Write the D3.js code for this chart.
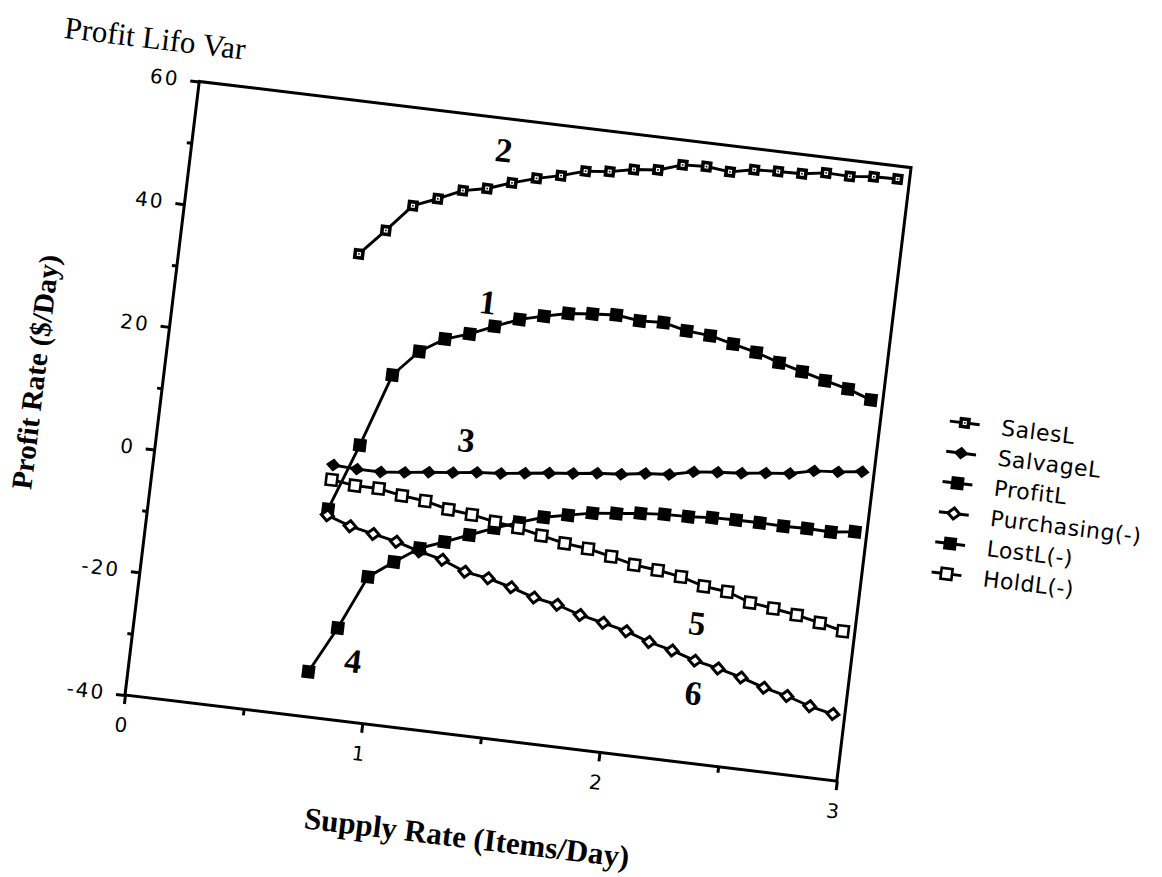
<!DOCTYPE html>
<html>
<head>
<meta charset="utf-8">
<script src="https://cdn.jsdelivr.net/npm/d3@7"></script>
<style>
  html, body { margin: 0; padding: 0; background: #fff; }
  svg { display: block; }
</style>
</head>
<body>
<svg id="chart" width="1162" height="877"></svg>
<script>
// Supply rate (items/day) at which each curve is sampled
const supplyRate = [0.75, 0.85, 0.95, 1.05, 1.15, 1.25, 1.35, 1.45, 1.55, 1.65, 1.75, 1.85,
                    1.95, 2.05, 2.15, 2.25, 2.35, 2.45, 2.55, 2.65, 2.75, 2.85, 2.95];

// Profit-rate components ($/day), LIFO policy
const salesL = [35.4, 39.7, 44.2, 45.8, 47.6, 48.4, 49.8, 51.0, 51.9, 53.1, 53.5, 54.3,
                54.7, 56.0, 56.2, 55.8, 56.6, 56.8, 56.9, 57.5, 57.4, 57.8, 57.9];
const salvageL = [1.0, 0.8, 0.8, 1.2, 1.7, 2.1, 2.6, 2.9, 3.4, 3.9, 4.3, 4.8,
                  5.1, 5.7, 6.0, 6.9, 7.3, 7.6, 8.1, 8.5, 9.4, 9.7, 10.2];
const profitL = [-6.2, 4.7, 16.6, 20.9, 23.4, 24.7, 26.4, 28.0, 29.0, 29.9, 30.3, 30.6,
                 30.1, 30.3, 29.4, 29.1, 28.2, 27.3, 26.1, 25.1, 24.1, 23.2, 21.9];
const purchasing = [-7.2, -8.5, -9.3, -10.1, -11.2, -12.1, -13.6, -14.2, -15.2, -16.4, -17.1, -18.3,
                    -19.1, -20.0, -21.3, -22.2, -23.4, -24.2, -25.2, -26.4, -27.3, -28.5, -29.3];
const lostL = [-32.7, -25.1, -16.3, -13.4, -10.7, -9.2, -7.6, -6.0, -4.6, -3.3, -2.5, -1.7,
               -1.3, -0.8, -0.5, -0.4, -0.1, 0.0, 0.0, -0.1, 0.0, -0.1, 0.4];
const holdL = [-1.4, -1.9, -1.9, -2.6, -3.0, -3.9, -4.3, -5.0, -5.5, -6.3, -7.1, -7.5,
               -8.3, -9.2, -9.6, -10.2, -11.3, -11.7, -13.0, -13.5, -14.1, -14.9, -15.8];

const seriesNames = ["SalesL", "SalvageL", "ProfitL", "Purchasing(-)", "LostL(-)", "HoldL(-)"];
const seriesValues = [salesL, salvageL, profitL, purchasing, lostL, holdL];
const seriesMarkers = ["squareDot", "diamondFilled", "squareFilled", "diamondOpen", "squareFilled", "squareOpen"];

// Curve numbers written beside the lines
const curveLabels = ["1", "2", "3", "4", "5", "6"];
const curveLabelX = [1.31, 1.30, 1.29, 0.93, 2.34, 2.36];
const curveLabelY = [30.2, 54.9, 7.6, -30.0, -17.3, -28.6];

const yTicksMajor = [-40, -20, 0, 20, 40, 60];
const yTicksMinor = [-30, -10, 10, 30, 50];
const xTicksMajor = [0, 1, 2, 3];
const xTicksMinor = [0.5, 1.5, 2.5];

const titleText = "Profit Lifo Var";
const xTitle = "Supply Rate (Items/Day)";
const yTitle = "Profit Rate ($/Day)";

const W = 717, H = 618;
const svg = d3.select("#chart");

// The whole sheet is printed slightly turned on the page
const sheet = svg.append("g").attr("transform", "translate(125,695) rotate(6.9)");
const plot = sheet.append("g").attr("transform", `translate(0,${-H})`);

const x = d3.scaleLinear().domain([0, 3]).range([0, W]);
const y = d3.scaleLinear().domain([-40, 60]).range([H, 0]);

const tickFont = "'DejaVu Sans', sans-serif";
const serifFont = "'Liberation Serif', 'Times New Roman', serif";

function styleAxis(g) {
  g.select(".domain").remove();
  g.selectAll(".tick line").attr("stroke", "#000").attr("stroke-width", 3);
  g.selectAll(".tick text")
    .attr("fill", "#000")
    .style("font-family", tickFont)
    .style("font-size", "20px")
    .style("letter-spacing", "2px");
}

// Y axis: labelled ticks every 20, short ticks between
plot.append("g")
  .call(d3.axisLeft(y).tickValues(yTicksMinor).tickSize(5).tickFormat(""))
  .call(styleAxis);
plot.append("g")
  .call(d3.axisLeft(y).tickValues(yTicksMajor).tickSize(9).tickPadding(11).tickFormat(d => String(d)))
  .call(styleAxis);

// X axis
plot.append("g")
  .attr("transform", `translate(0,${H})`)
  .call(d3.axisBottom(x).tickValues(xTicksMinor).tickSize(6).tickFormat(""))
  .call(styleAxis);
plot.append("g")
  .attr("transform", `translate(0,${H})`)
  .call(d3.axisBottom(x).tickValues(xTicksMajor).tickSize(9).tickPadding(14).tickFormat(d => String(d)))
  .call(styleAxis);

// Frame around the plotting area
plot.append("rect")
  .attr("x", 0).attr("y", 0).attr("width", W).attr("height", H)
  .attr("fill", "none").attr("stroke", "#000").attr("stroke-width", 3);

// Marker glyphs, centred on the origin of the given group
function drawMarker(g, type) {
  if (type === "squareDot") {
    g.append("rect").attr("x", -3.8).attr("y", -3.8).attr("width", 7.6).attr("height", 7.6)
      .attr("fill", "#fff").attr("stroke", "#000").attr("stroke-width", 3.6);
    g.append("rect").attr("x", -0.8).attr("y", -0.8).attr("width", 1.6).attr("height", 1.6).attr("fill", "#000");
  } else if (type === "squareFilled") {
    g.append("rect").attr("x", -6.5).attr("y", -6.5).attr("width", 13).attr("height", 13).attr("fill", "#000");
  } else if (type === "squareOpen") {
    g.append("rect").attr("x", -5.5).attr("y", -5.5).attr("width", 11).attr("height", 11)
      .attr("fill", "#fff").attr("stroke", "#000").attr("stroke-width", 2.6);
  } else if (type === "diamondFilled") {
    g.append("path").attr("d", "M0,-6.5L7.5,0L0,6.5L-7.5,0Z").attr("fill", "#000");
  } else if (type === "diamondOpen") {
    g.append("path").attr("d", "M0,-5.5L6,0L0,5.5L-6,0Z")
      .attr("fill", "#fff").attr("stroke", "#000").attr("stroke-width", 3);
  }
}

const line = d3.line()
  .x((d, i) => x(supplyRate[i]))
  .y(d => y(d));

seriesValues.forEach((vals, s) => {
  const g = plot.append("g");
  g.append("path")
    .attr("d", line(vals))
    .attr("fill", "none").attr("stroke", "#000").attr("stroke-width", 2.9)
    .attr("stroke-linejoin", "round");
  vals.forEach((v, i) => {
    const m = g.append("g").attr("transform", `translate(${x(supplyRate[i])},${y(v)})`);
    drawMarker(m, seriesMarkers[s]);
  });
});

// Curve numbers
plot.selectAll("text.curve-num")
  .data(curveLabels)
  .join("text")
  .attr("class", "curve-num")
  .attr("x", (d, i) => x(curveLabelX[i]))
  .attr("y", (d, i) => y(curveLabelY[i]))
  .attr("dy", "0.35em")
  .attr("text-anchor", "middle")
  .style("font-family", serifFont)
  .style("font-weight", "bold")
  .style("font-size", "34px")
  .text(d => d);

// Titles
plot.append("text")
  .attr("x", -49).attr("y", -38).attr("dy", "0.35em")
  .attr("text-anchor", "middle")
  .style("font-family", serifFont).style("font-size", "31px")
  .text(titleText);

plot.append("text")
  .attr("transform", `translate(${W / 2 - 2},${H + 100})`)
  .attr("dy", "0.35em")
  .attr("text-anchor", "middle")
  .style("font-family", serifFont).style("font-size", "31px").style("font-weight", "bold")
  .text(xTitle);

plot.append("text")
  .attr("transform", `translate(-128,${H / 2 - 1}) rotate(-90)`)
  .attr("dy", "0.35em")
  .attr("text-anchor", "middle")
  .style("font-family", serifFont).style("font-size", "29px").style("font-weight", "bold")
  .text(yTitle);

// Legend
const legend = plot.append("g").attr("transform", `translate(${W + 84},247)`);
seriesNames.forEach((name, i) => {
  const row = legend.append("g").attr("transform", `translate(0,${i * 30.4})`);
  row.append("line").attr("x1", -15).attr("x2", 15).attr("y1", 0).attr("y2", 0)
    .attr("stroke", "#000").attr("stroke-width", 3);
  drawMarker(row.append("g"), seriesMarkers[i]);
  row.append("text")
    .attr("x", 37).attr("y", 0).attr("dy", "0.36em")
    .style("font-family", tickFont).style("font-size", "22px")
    .style("letter-spacing", "0.5px")
    .text(name);
});
</script>
</body>
</html>
